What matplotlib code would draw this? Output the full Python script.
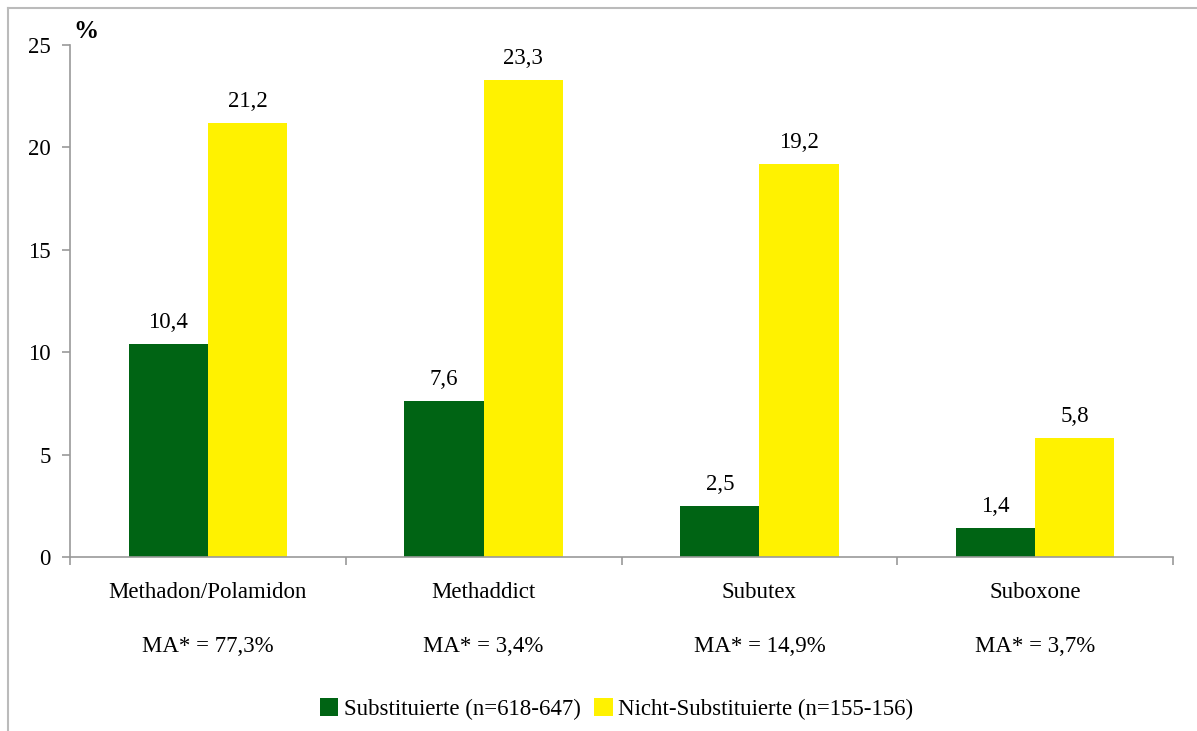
import matplotlib
matplotlib.use("Agg")
import matplotlib.pyplot as plt
import numpy as np
from matplotlib.lines import Line2D
from matplotlib.patches import Patch

categories = ["Methadon/Polamidon", "Methaddict", "Subutex", "Suboxone"]
ma_labels = ["MA* = 77,3%", "MA* = 3,4%", "MA* = 14,9%", "MA* = 3,7%"]
substituierte = [10.4, 7.6, 2.5, 1.4]
nicht_substituierte = [21.2, 23.3, 19.2, 5.8]
series_names = ["Substituierte (n=618-647)", "Nicht-Substituierte (n=155-156)"]
colors = ["#006414", "#FFF200"]
yticks = [0, 5, 10, 15, 20, 25]

plt.rcParams['font.family'] = ['Liberation Serif', 'DejaVu Serif']
FS = 16.5

W, H = 1197, 731
fig = plt.figure(figsize=(W / 100, H / 100), dpi=100)
ax = fig.add_axes([70 / W, 1 - 557 / H, (1173 - 70) / W, (557 - 45) / H])

x = np.arange(len(categories))
bw = 0.287
b1 = ax.bar(x - bw / 2, substituierte, bw, color=colors[0], label=series_names[0])
b2 = ax.bar(x + bw / 2, nicht_substituierte, bw, color=colors[1], label=series_names[1])

def fmt(v):
    return f"{v:.1f}".replace(".", ",")

for bars, vals in ((b1, substituierte), (b2, nicht_substituierte)):
    for rect, v in zip(bars, vals):
        ax.annotate(fmt(v), (rect.get_x() + rect.get_width() / 2, v),
                    xytext=(0, 8), textcoords="offset points",
                    ha="center", va="bottom", fontsize=FS)

ax.set_xlim(-0.5, len(categories) - 0.5)
ax.set_ylim(0, 25)
ax.set_yticks(yticks)
ax.set_yticklabels([str(t) for t in yticks], fontsize=FS)
ax.set_xticks(np.arange(len(categories) + 1) - 0.5)
ax.set_xticklabels([])
ax.tick_params(axis="both", direction="out", length=6, color="#999999", width=1.2)
ax.tick_params(axis="y", pad=8)

for i, (c, m) in enumerate(zip(categories, ma_labels)):
    ax.text(i, -1.2, c, ha="center", va="top", fontsize=FS,
            transform=ax.transData)
    ax.text(i, -3.85, m, ha="center", va="top", fontsize=FS,
            transform=ax.transData)

for s in ["top", "right"]:
    ax.spines[s].set_visible(False)
for s in ["left", "bottom"]:
    ax.spines[s].set_color("#999999")
    ax.spines[s].set_linewidth(1.2)

fig.text(73 / W, 1 - 32 / H, "%", fontsize=18, fontweight="bold", ha="left", va="center")

handles = [Patch(facecolor=colors[0]), Patch(facecolor=colors[1])]
fig.legend(handles, series_names, loc="center", bbox_to_anchor=(0.515, 1 - 709 / H),
           ncol=2, frameon=False, fontsize=FS, handlelength=0.8, handleheight=0.8,
           handletextpad=0.25, columnspacing=0.6)

# outer chart border
fig.add_artist(Line2D([8 / W, 1], [1 - 8 / H, 1 - 8 / H], color="#BBBBBB", lw=1.5,
                      transform=fig.transFigure))
fig.add_artist(Line2D([8 / W, 8 / W], [0, 1 - 8 / H], color="#BBBBBB", lw=1.5,
                      transform=fig.transFigure))

fig.savefig("out.png", dpi=100)
